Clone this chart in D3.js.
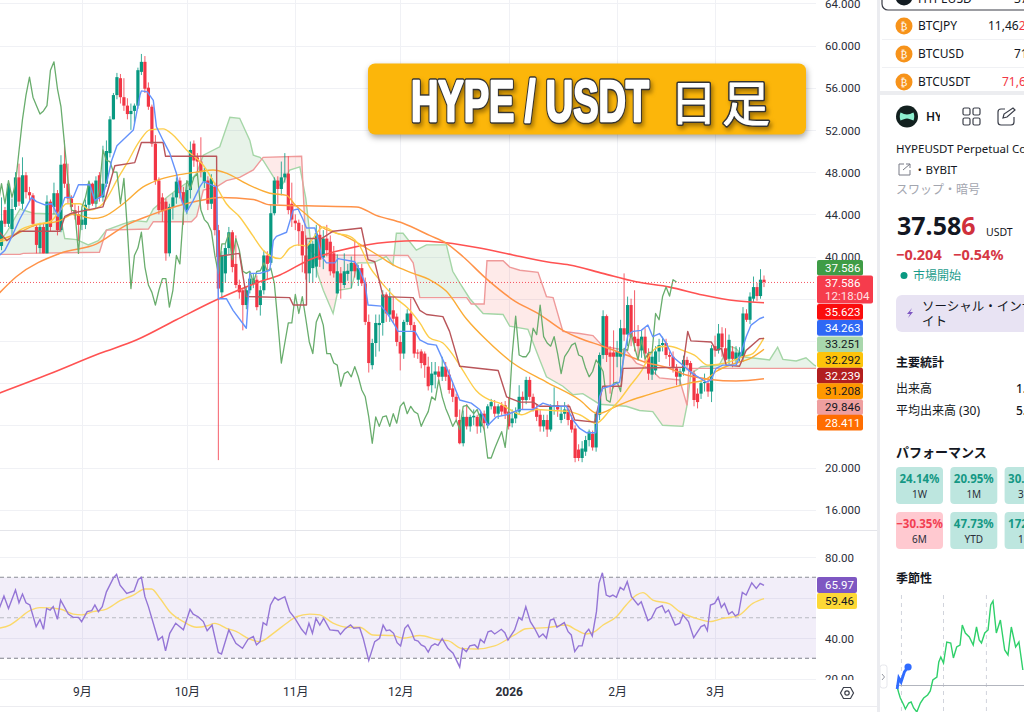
<!DOCTYPE html>
<html><head><meta charset="utf-8">
<script src="https://cdn.jsdelivr.net/npm/d3@7/dist/d3.min.js"></script>
<style>
html,body{margin:0;padding:0;background:#fff;overflow:hidden}
svg{display:block;font-family:Roboto,"Noto Sans","Noto Sans CJK JP",sans-serif}
</style></head><body><svg id="c" width="1024" height="712"></svg>
<script>
// ---- candles (daily, from startDay)
const startDay = Date.UTC(2025,7,9);
const opens=[41.0,44.4,43.1,42.6,44.7,47.5,45.0,47.7,46.1,45.8,
42.8,40.8,42.8,40.3,45.2,44.7,46.0,42.5,48.8,46.9,
45.5,44.4,44.0,43.0,43.0,44.9,46.9,45.0,47.7,45.6,
46.9,49.8,53.0,55.3,56.9,55.1,54.3,53.5,53.8,54.3,
57.5,58.45,56.0,54.2,50.7,47.2,45.6,45.2,40.3,44.7,
45.6,47.2,46.1,44.4,46.3,50.7,49.4,49.0,47.1,47.2,
45.0,46.6,42.5,36.6,38.4,40.8,42.3,39.3,37.3,36.8,
35.4,36.8,37.4,37.8,35.4,36.8,40.1,39.4,44.1,47.2,
46.4,47.5,47.86,45.0,43.4,43.2,42.4,40.1,38.4,38.9,
39.04,42.06,39.9,41.7,41.4,40.3,36.5,38.4,37.3,38.35,
38.6,39.4,37.8,38.9,37.46,33.8,29.7,31.8,33.5,33.7,
36.4,34.5,34.9,34.3,31.9,30.8,33.8,34.6,33.5,30.9,
31.0,30.8,29.56,27.8,28.8,29.1,28.6,29.56,28.8,27.5,
26.7,24.5,22.3,24.8,23.9,24.75,24.8,23.9,25.1,24.0,
25.8,25.8,25.1,25.9,25.9,25.3,24.2,24.65,25.3,26.7,
26.4,28.3,26.7,25.6,25.0,23.9,24.5,23.6,25.8,25.9,
24.5,25.1,25.5,24.5,23.7,21.7,20.9,21.5,22.6,23.2,
21.9,25.0,30.66,34.35,30.9,30.9,30.5,30.5,33.2,32.6,
35.4,32.4,32.2,31.1,32.4,30.8,28.8,29.2,31.0,31.6,
31.8,30.66,30.5,29.4,28.6,29.1,30.2,29.9,28.9,27.0,
27.0,28.0,28.0,27.2,31.5,31.1,32.7,31.3,30.3,31.0,
30.2,30.5,30.5,34.6,34.0,36.0,37.1,36.25,37.8];
const closes=[43.4,43.1,46.9,44.5,47.5,45.2,47.7,46.1,45.8,43.1,
41.1,42.8,40.3,45.2,42.8,46.0,42.5,48.7,46.9,45.5,
44.7,43.9,43.0,43.5,44.9,46.9,45.0,47.2,45.6,46.9,
50.0,53.0,55.3,57.0,55.1,54.3,53.5,53.8,54.3,57.66,
58.45,55.9,54.2,50.7,47.2,44.4,44.3,40.3,44.7,45.6,
47.1,46.0,45.0,46.3,50.1,49.1,49.0,48.0,48.0,45.0,
47.4,42.5,36.96,40.1,40.8,42.3,39.0,37.3,36.6,35.4,
36.8,37.9,37.9,35.2,36.8,40.1,39.3,44.1,47.2,46.4,
47.5,47.86,44.4,43.5,43.15,42.4,40.1,38.4,41.2,41.2,
42.2,39.7,41.7,40.6,38.6,38.4,38.6,37.5,38.6,38.65,
39.4,38.6,38.9,37.46,33.8,29.9,31.8,33.7,33.7,36.4,
34.6,36.2,34.1,31.9,30.8,33.8,34.6,33.5,30.8,30.8,
29.9,29.7,27.7,28.9,29.1,28.6,29.56,28.6,27.35,26.7,
24.8,22.3,24.8,23.9,24.8,24.9,23.9,25.1,24.2,25.8,
26.2,25.1,25.8,25.3,25.1,23.9,24.65,25.3,26.7,26.4,
28.3,26.7,25.6,24.8,23.9,24.5,23.6,25.8,25.9,25.5,
25.1,25.5,24.5,23.6,20.9,20.9,21.8,22.6,23.4,21.9,
25.1,30.66,34.35,30.66,30.5,30.5,31.0,33.2,32.6,35.4,
32.4,31.8,31.5,32.4,30.8,28.9,30.5,31.0,31.6,31.8,
30.66,30.5,29.4,28.6,29.1,30.2,29.7,29.1,26.4,26.2,
28.0,28.1,27.2,31.3,31.1,32.7,31.4,30.2,32.1,30.3,
30.9,30.9,34.6,34.0,36.2,37.1,36.25,37.8,37.586];
const highs=[45.6,44.7,47.2,45.5,48.0,48.8,49.4,48.0,46.6,46.0,
43.0,43.2,43.1,45.8,45.4,47.0,46.3,49.6,51.0,48.8,
45.8,45.0,44.8,44.5,45.4,47.2,47.0,47.6,48.0,50.5,
51.0,53.3,55.5,57.4,57.3,56.9,55.0,54.5,54.5,57.9,
59.2,59.0,56.5,54.4,51.5,47.5,46.0,45.5,45.0,46.0,
47.5,47.5,46.6,46.8,50.9,51.0,49.8,51.3,48.4,47.6,
47.8,47.0,43.0,40.5,41.2,42.8,42.5,42.0,37.8,37.0,
37.2,38.5,38.4,38.2,37.2,40.6,40.5,44.9,47.5,47.6,
49.0,49.8,49.5,47.0,44.0,43.5,43.0,42.0,41.5,41.5,
43.0,43.0,42.5,43.0,42.0,41.0,40.2,39.0,40.3,39.3,
40.0,41.6,39.2,39.3,38.0,34.5,32.2,34.5,34.5,36.8,
36.6,37.0,36.2,34.6,32.5,34.0,35.0,36.0,33.8,31.2,
31.2,31.0,30.5,30.0,30.0,29.6,30.5,30.0,29.3,28.0,
27.0,25.5,25.4,26.0,25.0,25.5,25.0,25.4,25.4,26.0,
26.5,26.4,26.0,26.2,26.3,26.6,25.5,25.7,27.8,27.2,
28.6,28.6,27.0,26.0,25.5,25.0,25.0,26.0,27.6,26.3,
25.8,26.2,26.0,25.0,24.0,22.2,22.5,23.0,23.6,23.5,
25.3,30.9,34.9,34.5,31.5,33.0,32.0,34.0,38.4,36.2,
36.0,36.8,33.5,33.0,33.2,31.3,31.0,31.5,32.2,32.4,
32.2,31.0,31.0,29.8,29.4,30.6,30.5,30.1,29.2,27.5,
28.2,28.9,28.5,31.6,32.5,33.6,33.3,33.2,32.6,31.5,
31.5,31.4,35.2,35.0,36.6,38.1,37.5,38.8,38.2];
const lows=[40.6,42.8,42.8,41.9,44.4,44.8,44.5,45.5,45.3,42.8,
40.3,40.3,40.3,40.3,42.4,44.0,42.0,42.3,46.5,45.0,
44.2,43.5,41.5,42.5,42.6,44.5,44.8,44.6,45.2,45.2,
46.6,49.4,53.0,54.9,54.5,53.8,53.0,52.0,52.5,54.0,
57.2,55.5,53.9,50.4,46.8,44.0,43.3,39.6,40.0,43.5,
45.0,45.5,43.0,44.0,45.5,48.5,48.0,47.5,46.5,44.4,
44.5,42.0,20.7,36.0,37.5,40.2,38.5,37.0,36.0,33.0,
35.0,36.5,37.0,34.9,34.4,36.4,37.8,39.2,43.9,45.0,
45.8,47.0,44.0,42.8,42.5,41.0,38.5,37.8,37.5,37.5,
38.0,39.0,38.8,40.0,38.2,38.0,36.5,36.0,37.0,37.7,
37.0,38.0,37.2,37.2,33.5,29.0,29.3,30.5,31.0,32.5,
33.8,33.8,33.7,31.5,29.2,30.3,33.5,33.0,30.4,30.3,
29.4,28.5,27.3,27.1,27.5,28.0,28.2,28.2,27.0,26.2,
24.5,22.2,22.0,23.6,23.4,24.0,23.2,23.3,23.5,23.7,
25.5,24.8,24.6,24.9,24.6,23.6,23.8,24.2,25.0,25.5,
26.0,26.4,25.3,24.4,23.4,23.4,22.9,23.4,25.0,24.8,
24.2,24.6,24.0,23.3,20.5,20.6,20.5,21.1,22.0,21.6,
21.5,24.5,30.3,30.0,27.0,27.5,29.5,28.5,32.0,31.5,
31.5,31.0,30.5,30.4,30.0,28.3,28.3,28.8,30.0,31.0,
30.3,29.6,29.0,27.8,27.8,28.7,29.2,28.8,25.8,25.6,
26.5,27.2,26.7,26.2,30.5,30.8,30.5,29.8,29.8,29.5,
29.8,30.0,30.0,33.8,33.6,35.7,35.8,36.0,37.1];

// ---- indicator readings: [day index, value]
const chikouShift=25;
const tenkan=[[-1,40],[1,40.6],[2.4,41.5],[5.3,43.6],[8.6,45.6],[10,45.2],[12.4,44.9],[14.4,45],[16.2,43.8],[18.1,45.6],[20.5,45.6],[22,46.8],[25.3,46.8],[26.7,45.3],[29,45.8],[30,46.9],[31.5,49.1],[33,50.5],[37.7,52],[39.6,55.3],[40,55.7],[41.7,55.6],[43.4,54.8],[44.3,52.3],[46.2,51],[48.1,49.8],[50,47.9],[51.5,45.3],[52.9,44.2],[54.8,45.3],[56.7,46.6],[57.7,47.1],[61.5,46.6],[62,36],[64.3,36],[66.2,34.9],[69.1,33.6],[70,33.2],[71,38.4],[73.9,38.4],[76.7,38.7],[77.7,41.5],[78.6,41.9],[81.5,42.3],[83.4,44.4],[84.8,44.5],[86.2,43.5],[87.2,42.7],[89.6,42.7],[90.5,41.6],[91.5,40],[92.9,39.4],[95.3,39.4],[96.2,39.8],[101,39.5],[102.4,38.7],[103.9,37.5],[104.8,35.4],[108.6,35.3],[110.5,34.5],[112.4,33.5],[113.4,32.9],[118.2,32.9],[119.6,32.1],[122,31.7],[124.3,31.6],[126.2,30.2],[128.1,28.8],[131,26.4],[134.3,26.1],[136.7,25.5],[139.1,24],[141.5,24.8],[144.4,25],[148.2,25.5],[152,25.5],[154.8,26.1],[157.7,25.8],[161.5,25.8],[163.4,24.5],[165.3,23.7],[167.2,23.3],[169.9,23.3],[171,26.7],[171.9,27.5],[173.9,27.7],[176.7,28.1],[179.1,32.6],[180.5,32.9],[182.9,33],[184.8,33.5],[186.2,32.4],[188.1,32.7],[190,31.8],[191.9,30.5],[194.8,29.7],[197.6,28.9],[201.5,28.1],[202.9,28.3],[204.3,29.4],[206.2,29.7],[210,29.7],[211.4,30.8],[212.9,32.4],[214.3,33.5],[216.7,34.1],[218,34.263]];
const kijun=[[-1,42.5],[1.5,41.5],[5.3,42.4],[16.7,42.4],[18.1,43.8],[20,44.1],[29,44.7],[30,45.8],[32.4,48.6],[38.1,48.9],[40,50.8],[46.2,50.8],[46.9,49.5],[61.5,49.5],[61.6,40],[68,40.3],[70,36.2],[82.4,36.1],[83.4,35.4],[87.2,35.4],[87.2,41.7],[91.5,41.7],[94.8,42.4],[102.9,42.7],[104.8,39.7],[106.7,39.5],[109.1,36.2],[117.7,36.1],[119.6,34.9],[121.5,34.5],[126.2,34.3],[128.1,32.9],[131,29.6],[142,29.2],[144.4,26.7],[148.2,26.2],[152,26.2],[153.9,25.8],[162.4,25.8],[163.9,24.5],[169.6,24.3],[171.9,27.7],[177.2,27.7],[177.7,29.4],[194.8,29.5],[196.2,32.9],[197.1,32],[202.9,31.9],[204.3,31.1],[205.8,31.3],[207.2,29.7],[211,29.6],[212.9,31.1],[216.7,32.2],[218,32.239]];
const spanA=[[-1,41.2],[1.5,42.3],[5.3,44.5],[9.1,44.1],[16.7,44],[18.1,41.7],[21.5,41.6],[24.8,41.1],[27.7,41.5],[30,42.5],[34.8,43.1],[37.7,43.4],[41.5,43.3],[43.4,44.5],[47.2,45.6],[50,46.3],[53.9,47.2],[55.8,47.9],[57.7,49.6],[62.4,50.4],[65.3,53.2],[68.1,53.1],[71,51],[72,49.6],[73.9,49.4],[74.8,49.1],[78.6,47.1],[80,46.6],[82.4,48.2],[85.3,48.5],[87,45.5],[88.5,41],[90.5,38.25],[92,36.8],[94.8,34.6],[96.2,36.8],[100,37],[101.9,39.4],[106.2,39.4],[110,40],[111.9,39.2],[112.9,42.2],[114.8,42.2],[118.6,40.6],[121.5,41.1],[127.2,41.1],[129,38.6],[131,37.5],[133.9,36],[137.7,34.6],[143.4,34.5],[145.3,33.4],[150.5,33.1],[153.9,30.2],[155.8,28.6],[160.5,27.7],[163.4,26.9],[166.2,27],[171,26],[178.6,25.8],[182.4,25.4],[186.2,25.3],[189,24],[194.8,23.9],[196,25.9],[197.1,28.9],[200,29.55],[205.2,29.7],[208,31.5],[210,31.3],[211.9,30.5],[219.6,30.2],[221.9,31.4],[223.4,30.25],[227.2,30.1],[230,30.4],[232.4,29.7],[233.5,29.5],[243,29.5]];
const spanB=[[-1,40.2],[5.3,40.2],[6.2,40.3],[28,40.4],[30,42.5],[42,42.6],[43.4,43.3],[54.3,43.3],[55.8,43.8],[57.7,46.3],[61.5,46.6],[64.3,47.2],[68.1,47.5],[72,48.2],[74.8,49.4],[85.8,49.5],[87,41],[89.6,40.15],[116.2,40.1],[117.7,39.4],[119.6,36.1],[133,36.1],[134.3,35.5],[138,35.5],[138.8,39.6],[143.4,39.6],[145.3,39],[148.2,38.7],[153.4,38.5],[155.8,36.2],[157.7,36.1],[160.5,32.9],[165.3,32.7],[169.1,32.5],[171.9,31.5],[178.6,31.1],[181.5,29.9],[185.3,29.4],[188.1,28.5],[193.9,28.3],[196,25.9],[196.5,29.4],[243,29.4]];
const sma20=[[-1,41.4],[2.4,41.7],[5.3,42.5],[9.1,43],[13.9,43.3],[16.2,44.1],[18.6,45],[22.4,45],[25.3,44.4],[29,45],[31,46],[32.9,47.2],[35.8,48.8],[39.6,51],[42.4,52],[46.2,52.1],[49.1,51.5],[52.9,50.1],[57.7,48.65],[61.5,46.6],[64.3,45],[68.1,43.75],[72,41.9],[74.8,40.6],[77.2,40],[79.6,39.8],[82.4,40.8],[84.8,41.1],[87.2,41],[89,41.7],[92,42.8],[95.8,42.2],[99.6,41.9],[102.4,41],[105.3,39],[108,37.8],[110,37],[112.9,36],[116.2,35.1],[119.6,33.7],[122.4,32.3],[126.2,31.8],[129,30.7],[131.9,29.2],[135.7,27.3],[139.5,26.4],[142.4,26.1],[145.3,25.5],[148.7,25],[152.9,25.5],[157.7,25.4],[162.4,25.3],[165.3,25],[170,24.2],[173.9,25.4],[176.7,26.4],[179.6,27.7],[183.4,29.4],[185.3,30.66],[188.1,31.45],[191,31.5],[194.8,31.1],[198.1,30.66],[202,29.7],[207.2,29.9],[211.9,30.5],[214.8,30.8],[218,32.292]];
const sma50=[[-1,41.5],[5.3,42.3],[9.1,42.9],[16.7,43.4],[20.5,44],[26.2,43.6],[29,43.75],[34.8,45],[40.5,46.6],[44.3,47.2],[50,47.7],[55.8,48],[60.5,48.2],[64.3,47.9],[70,46.9],[76.7,46],[81.5,45.8],[83.9,44.9],[86.7,44.1],[92,42.7],[97.7,42],[108.2,40],[112,39.2],[117.7,38.4],[122.4,37.8],[127.2,36.7],[132.9,34.1],[138.6,32.1],[146.2,29.9],[155.8,28.1],[165.3,26.4],[170.5,25.1],[175.8,25.8],[178.6,26.2],[185,26.9],[190.9,27.5],[196.7,28],[201.4,28.35],[204.3,29.1],[210,29.9],[213.8,30.3],[218,31.208]];
const sma100=[[-1,36.4],[4.3,38.1],[16.7,40.3],[27.2,41.2],[35.8,43],[42.4,43.9],[56.7,45.3],[62.4,45.6],[72,45.4],[76.7,44.9],[87.2,44.8],[101.5,44.7],[107.1,43.9],[114.8,43.15],[122.4,42],[127.2,41.25],[131.9,40],[138.6,37.9],[146.2,35.9],[153.9,34.5],[160.5,33],[165.3,32.25],[171.9,31.5],[178.6,30.66],[184.8,29.9],[190,29.5],[195.8,28.76],[202.6,28.35],[210,28.2],[218,28.411]];
const sma200=[[-1,27],[14,28.9],[28,30.8],[38.7,32.1],[50,34],[61.5,35.9],[73,37.5],[79.6,38.25],[88.1,39.7],[95.8,40.5],[107.4,41.25],[117.7,41.5],[127.2,41.3],[136.7,40.8],[146.2,40.15],[155.8,39.5],[162.4,39.2],[171.9,38.4],[181.4,37.6],[191,37.1],[200.5,36.35],[210,35.8],[218,35.623]];
const rsi=[[-1,53],[0.7,60.7],[2,54.6],[4,63.7],[5,57.4],[6,61.7],[7,57.4],[8.1,56.3],[9.9,45.6],[11,49.2],[12,44.3],[12.9,54.6],[13.9,53.8],[14.8,55.5],[16,49.2],[16.9,58.7],[19.1,51.8],[20.5,50.2],[22,50.2],[22.9,48.1],[24.5,53],[25.8,53.5],[26.7,56.3],[27.7,53],[28.8,55.5],[30,62.8],[32,69.7],[32.9,71.4],[33.9,66.1],[35.8,62],[37.9,63.2],[39.1,68.9],[40,69.9],[41,60.4],[42,55.5],[44.8,39],[46,40.7],[46.9,33.6],[48.1,42.3],[49.8,47.3],[52,44],[53.9,54.1],[54.8,51.8],[56.2,50.5],[57.7,48.1],[58.8,43.6],[60.2,46.4],[62,32.8],[62.9,32.1],[65,44],[67,37.4],[68.9,34.9],[70.5,39.4],[72,40.7],[72.9,36.6],[73.9,38.2],[74.8,47.6],[75.8,46.4],[76.9,56.3],[78.1,60.1],[79.1,58.7],[81,60.4],[82.4,53],[83.9,49.7],[85.8,44.3],[87,41.8],[87.9,47.3],[88.9,42.3],[89.9,49.7],[91,46.4],[92.1,49.7],[93.9,44],[96.2,43.6],[96.9,41.8],[98.1,44.3],[99.8,46.4],[100.7,44.8],[102.4,45.1],[103.4,39.9],[105,28.9],[106.7,38.2],[108.1,39.9],[109.1,46.4],[110,43.6],[111,44],[112.1,42.3],[113.1,37.7],[114.1,36.1],[115.3,44.8],[116.2,46.4],[117.2,43.1],[118.1,39],[119.1,38.5],[120,36.6],[121,35.8],[122,33],[122.9,36.1],[123.9,37.1],[124.8,36.4],[126,39.7],[127.6,34.9],[129.1,32.5],[131,25.6],[131.8,34.9],[132.9,33.3],[133.9,36.1],[135.3,36.6],[136.2,34.9],[136.9,39.4],[138,37.7],[139.1,43.1],[140,43.6],[141,42],[142.9,44.3],[143.9,42.6],[144.8,39],[146.7,44],[147.9,50.2],[148.8,48.9],[149.9,55.5],[151.2,48.1],[152.4,44.8],[153.7,40.4],[154.8,42],[155.8,39.9],[156.9,48.9],[157.9,49.4],[158.8,45.3],[160.9,47.6],[162,43.1],[162.9,41.5],[163.9,33.3],[165,36.1],[166,36.1],[166.9,42.3],[167.9,44.3],[168.9,41],[170.1,53],[170.8,67],[171.8,72.2],[172.9,61.2],[173.9,60.4],[174.8,61.2],[175.8,60.1],[176.9,65],[177.9,63.7],[178.9,67.8],[180.1,60.4],[182,56.3],[182.9,57.9],[184.8,48.6],[185.8,49.7],[187.2,54.6],[188.9,56],[189.8,52.5],[190.7,53.8],[192.6,46.4],[193.9,47.3],[194.8,51.4],[196.4,48.1],[197.9,40.2],[200,45.6],[201,46.4],[201.8,43.6],[202.7,56.3],[203.9,57.1],[204.9,60.1],[205.8,55.1],[206.7,57.1],[207.9,51.8],[208.9,53],[209.8,50.9],[210.7,51.8],[211.8,62.5],[212.9,61.2],[214.5,67.3],[215.8,64.5],[216.9,67],[218,65.97]];
const rsiMA=[[-1,44.8],[2.4,46.4],[4.3,48.6],[8.1,53.5],[11,55],[16.7,54.3],[20.5,51.8],[22.9,51.4],[26.2,53],[30,54.3],[33.9,58.4],[37.7,61.2],[41,64.2],[42.9,64.2],[45.3,59.6],[48.1,53],[52,48.1],[55.8,45.3],[58.6,45.9],[61,47.2],[64.3,44.8],[67.2,43.1],[71,39.4],[73.9,38.2],[77.7,42.3],[81.5,47.3],[84.3,50.5],[88.1,51.8],[91,51.4],[94.8,47.3],[98.6,45.3],[102.4,45.3],[106.2,41.5],[111.9,41.2],[114.8,39.9],[119.6,41.2],[125.3,39],[127.6,38.7],[131.5,34.9],[135.8,34.6],[141,36.1],[146.7,41.5],[150,44.6],[155.8,45.1],[161.5,46.4],[164.3,44],[167.2,42],[169.6,43.1],[172,46.4],[175.8,50.5],[178.6,56.3],[181.5,61.2],[183.4,62.4],[186.2,58.7],[191,56.8],[193.9,53],[198.6,49.7],[202.4,48.1],[206.3,49.7],[210.5,50.9],[214.8,57.1],[218,59.46]];

// ---- axes
const priceTicks=[64,60,56,52,48,44,40,36,32,28,24,20,16];
const priceTickLabelsHidden=[36,32,28,24];
const rsiTicks=[80,60,40,20];
const monthTicks=[[2025,8,"9月"],[2025,9,"10月"],[2025,10,"11月"],[2025,11,"12月"],[2026,0,"2026"],[2026,1,"2月"],[2026,2,"3月"]];
const lastLabels=[["37.586","#3f9c46","#fff"],["35.623","#fb0d0d","#fff"],["34.263","#2f68f5","#fff"],["33.251","#a9d7ac","#131722"],["32.292","#fdc30a","#131722"],["32.239","#b21f1f","#fff"],["31.208","#ff9800","#131722"],["29.846","#ef9f9f","#131722"],["28.411","#ff6d00","#fff"]];
const rsiLabels=[["65.97","#7e57c2","#fff"],["59.46","#fdd835","#131722"]];
const lastPrice=37.586;
// ---- sidebar data
const watch=[["BTCJPY","11,46","2","#131722"],["BTCUSD","71","","#131722"],["BTCUSDT","71,6","","#f23645"]];
const perf=[["24.14%","1W",1],["20.95%","1M",1],["30.","3",1],["−30.35%","6M",0],["47.73%","YTD",1],["172","1",1]];
const seasonGreen=[[0.5,-2],[1.8,-8],[3,-13],[5.7,-20],[7,-24],[9.6,-18],[11.5,-17],[13.5,-23],[16,-27],[18.8,-18],[21.4,-13],[24.5,-10],[26.6,-6],[28.6,5],[31.8,8],[33.3,23],[34.9,28],[37,22],[39.6,43],[42.7,42],[44.8,27],[47.4,38],[50,40],[51.8,60],[54.2,52],[57.3,48],[60.4,40],[63,58],[65.1,45],[66.9,42],[69.5,52],[72.1,55],[74.2,80],[76,84],[78.6,52],[81.8,65],[85.2,35],[87.8,30],[90.4,58],[93.8,38],[96.4,43],[99.5,15]];
const seasonBlue=[[0.5,-4],[1.8,7],[3.6,3],[6.2,13],[9.1,18]];
const seasonDash=[3.9,37,70.8];

const svg=d3.select("#c");
const day=i=>new Date(startDay+i*864e5);
const x=d3.scaleUtc().domain([day(0),day(218)]).range([1.5,764]);
const y=d3.scaleLinear().domain([20,40]).range([467.5,256.5]);
const yr=d3.scaleLinear().domain([40,80]).range([638,557]);
const plotR=816, paneSplit=530, paneBottom=680;
const defs=svg.append("defs");
defs.append("clipPath").attr("id","pP").append("rect").attr("width",plotR).attr("height",paneSplit);
defs.append("clipPath").attr("id","pR").append("rect").attr("y",paneSplit).attr("width",plotR).attr("height",paneBottom-paneSplit);

// grid
const grid=svg.append("g").attr("stroke","#f0f1f5").attr("stroke-width",1);
const tickDates=monthTicks.map(m=>new Date(Date.UTC(m[0],m[1],1)));
tickDates.forEach(d=>{const X=Math.round(x(d))+.5;grid.append("line").attr("x1",X).attr("x2",X).attr("y1",0).attr("y2",paneBottom)});
priceTicks.forEach(v=>grid.append("line").attr("x1",0).attr("x2",plotR).attr("y1",Math.round(y(v))+.5).attr("y2",Math.round(y(v))+.5));
rsiTicks.forEach(v=>grid.append("line").attr("x1",0).attr("x2",plotR).attr("y1",Math.round(yr(v))+.5).attr("y2",Math.round(yr(v))+.5));

// RSI pane separators
svg.append("line").attr("x1",0).attr("x2",880).attr("y1",530.5).attr("y2",530.5).attr("stroke","#e4e5ea");
svg.append("line").attr("x1",0).attr("x2",880).attr("y1",706.5).attr("y2",706.5).attr("stroke","#ececf0");

// main pane
const main=svg.append("g").attr("clip-path","url(#pP)");
const linePath=(curve)=>d3.line().x(d=>x(day(d[0]))).y(d=>y(d[1])).curve(curve||d3.curveLinear);
// cloud: difference with clips
const areaDown=(s)=>d3.area().x(d=>x(day(d[0]))).y0(paneSplit).y1(d=>y(d[1]))(s);
const areaUp=(s)=>d3.area().x(d=>x(day(d[0]))).y0(0).y1(d=>y(d[1]))(s);
defs.append("clipPath").attr("id","aboveB").append("path").attr("d",areaUp(spanB));
defs.append("clipPath").attr("id","aboveA").append("path").attr("d",areaUp(spanA));
main.append("g").attr("clip-path","url(#aboveB)").append("path").attr("d",areaDown(spanA)).attr("fill","#43a047").attr("fill-opacity",.12);
main.append("g").attr("clip-path","url(#aboveA)").append("path").attr("d",areaDown(spanB)).attr("fill","#f44336").attr("fill-opacity",.11);
main.append("path").attr("d",linePath()(spanA)).attr("fill","none").attr("stroke","#a5d6a7").attr("stroke-width",1.4);
main.append("path").attr("d",linePath()(spanB)).attr("fill","none").attr("stroke","#ef9a9a").attr("stroke-width",1.4);

// candles
const upC="#089981",dnC="#f23645";
const candles=main.append("g");
closes.forEach((c,i)=>{
  const o=opens[i],col=c>=o?upC:dnC,X=x(day(i));
  candles.append("line").attr("x1",X).attr("x2",X).attr("y1",y(highs[i])).attr("y2",y(lows[i])).attr("stroke",col).attr("stroke-width",1).attr("stroke-opacity",.8);
  candles.append("rect").attr("x",X-1.6).attr("width",3.2).attr("y",y(Math.max(o,c))).attr("height",Math.max(1,Math.abs(y(o)-y(c)))).attr("fill",col);
});

// lines
const chikou=closes.map((c,i)=>[i-chikouShift,c]);
const lineDefs=[[sma200,"#ff5252",1.6,d3.curveMonotoneX],[sma100,"#ff9248",1.5,d3.curveMonotoneX],[sma50,"#fbac36",1.4,d3.curveMonotoneX],[sma20,"#fdcd4a",1.4,d3.curveMonotoneX],[chikou,"#69ad6d",1.3],[kijun,"#b9555a",1.4],[tenkan,"#6492fb",1.4]];
lineDefs.forEach(l=>main.append("path").attr("d",linePath(l[3])(l[0])).attr("fill","none").attr("stroke",l[1]).attr("stroke-width",l[2]).attr("stroke-linejoin","round"));

// last price dotted
main.append("line").attr("x1",0).attr("x2",plotR).attr("y1",y(lastPrice)+.5).attr("y2",y(lastPrice)+.5).attr("stroke","#f23645").attr("stroke-dasharray","1 2").attr("stroke-opacity",.85);

// RSI pane
const rp=svg.append("g").attr("clip-path","url(#pR)");
rp.append("rect").attr("x",0).attr("width",plotR).attr("y",yr(70)).attr("height",yr(30)-yr(70)).attr("fill","#7e57c2").attr("fill-opacity",.1);
[[70,"#8a8d96"],[50,"#b9bac2"],[30,"#7e808a"]].forEach(b=>rp.append("line").attr("x1",0).attr("x2",plotR).attr("y1",yr(b[0])).attr("y2",yr(b[0])).attr("stroke",b[1]).attr("stroke-dasharray","4 3"));
const rl=(c)=>d3.line().x(d=>x(day(d[0]))).y(d=>yr(d[1])).curve(c||d3.curveLinear);
rp.append("path").attr("d",rl(d3.curveMonotoneX)(rsiMA)).attr("fill","none").attr("stroke","#fbd96b").attr("stroke-width",1.4);
rp.append("path").attr("d",rl()(rsi)).attr("fill","none").attr("stroke","#9475d6").attr("stroke-width",1.4);

// axes
const axP=d3.axisRight(y).tickValues(priceTicks.filter(t=>!priceTickLabelsHidden.includes(t))).tickSize(0).tickPadding(0).tickFormat(d3.format(".3f"));
const gP=svg.append("g").attr("transform","translate(825,0.6)").call(axP);
const axR=d3.axisRight(yr).tickValues([80,40]).tickSize(0).tickPadding(0).tickFormat(d3.format(".2f"));
const gR=svg.append("g").attr("transform","translate(825,0.6)").call(axR);
const axT=d3.axisBottom(x).tickValues(tickDates).tickSize(0).tickPadding(0).tickFormat((d,i)=>monthTicks[i][2]);
const gT=svg.append("g").attr("transform","translate(0,686)").call(axT);
[gP,gR,gT].forEach(g=>{g.select(".domain").remove();g.selectAll("text").attr("fill","#2a2e39").attr("font-size","11.5px").attr("font-family",'Roboto,"Noto Sans CJK JP",sans-serif')});
gT.selectAll("text").attr("dy",0).attr("y",10).attr("font-size","12px").attr("font-weight",(d,i)=>monthTicks[i][2]==="2026"?700:400);
// clipped 20.00 label
svg.append("clipPath").attr("id","c20").append("rect").attr("x",816).attr("y",660).attr("width",64).attr("height",20);
svg.append("text").attr("clip-path","url(#c20)").attr("x",825).attr("y",yr(20)+4).attr("font-size","11.5px").attr("fill","#2a2e39").text("20.00");

// badges
function badge(txt,yT,h,w,bg,fg,sub){
  svg.append("rect").attr("x",817).attr("y",yT).attr("width",w).attr("height",h).attr("rx",2).attr("fill",bg);
  svg.append("text").attr("x",825).attr("y",yT+(sub?11.5:h/2+4)).attr("font-size","11.5px").attr("fill",fg).text(txt);
  if(sub)svg.append("text").attr("x",825).attr("y",yT+24).attr("font-size","11.5px").attr("fill","#ffe0e3").text(sub);
}
const bl=lastLabels;
badge(bl[0][0],260,15.5,46,bl[0][1],bl[0][2]);
badge("37.586",275.5,28,56,"#f63c4c","#fff","12:18:04");
[304,320,336.5,352,367.7,383.3,399.3,414.7].forEach((t,i)=>badge(bl[i+1][0],t,15.7,46,bl[i+1][1],bl[i+1][2]));
[577,593].forEach((t,i)=>badge(rsiLabels[i][0],t,16,40,rsiLabels[i][1],rsiLabels[i][2]));
// settings hexagon
svg.append("path").attr("d","M843.500 687.500h7l3 5.500-3 5.500h-7l-3-5.500z").attr("fill","none").attr("stroke","#3b3f4a").attr("stroke-width",1.2);
svg.append("circle").attr("cx",847).attr("cy",693).attr("r",2.2).attr("fill","none").attr("stroke","#3b3f4a").attr("stroke-width",1.2);

// banner
const ban=svg.append("g");
ban.append("rect").attr("x",368).attr("y",63.5).attr("width",438).attr("height",71).attr("rx",7).attr("fill","#fcb60a").style("filter","drop-shadow(1px 3px 3px rgba(0,0,0,.35))");
const bt=ban.append("g").style("filter","drop-shadow(2px 3px 2px rgba(90,60,0,.55))");
function bannerText(t,X,Y,fam,fs,w,weight,thick){
  const a={x:X,y:Y,"font-family":fam,"font-size":fs,"font-weight":weight};
  if(w){a.textLength=w;a.lengthAdjust="spacingAndGlyphs"}
  const d=bt.append("text").text(t).attr("fill","#333").attr("stroke","#333").attr("stroke-width",thick+3).attr("stroke-linejoin","round");
  const f=bt.append("text").text(t).attr("fill","#fff").attr("stroke","#fff").attr("stroke-width",thick).attr("stroke-linejoin","round");
  Object.keys(a).forEach(k=>{d.attr(k,a[k]);f.attr(k,a[k])});
}
bannerText("HYPE / USDT",411,121,'"Liberation Sans Narrow","Liberation Sans",sans-serif',"57px",238,700,2.6);
bannerText("日",670,120,'"Noto Sans CJK JP",sans-serif',"47px",null,400,.9);
bannerText("足",722,121,'"Noto Sans CJK JP",sans-serif',"48px",null,400,.9);

// ---- sidebar
const sb=svg.append("g").attr("font-family",'"Noto Sans","Noto Sans CJK JP",sans-serif').attr("fill","#131722");
svg.append("line").attr("x1",878.5).attr("x2",878.5).attr("y1",0).attr("y2",712).attr("stroke","#ebecf0").attr("stroke-width",3);
const T=(t,X,Y,s,o)=>{const e=sb.append("text").attr("x",X).attr("y",Y).attr("font-size",s).text(t);Object.entries(o||{}).forEach(([k,v])=>e.attr(k,v));return e};
sb.append("rect").attr("x",882).attr("y",-20).attr("width",200).attr("height",30).attr("rx",6).attr("fill","#fff").attr("stroke","#3a3d47").attr("stroke-width",1.2);
sb.append("circle").attr("cx",904).attr("cy",-3).attr("r",8.5).attr("fill","#131c22");
T("HYPEUSD",918,3,"12px");
T("37",1014,3,"12px");
watch.forEach((r,i)=>{
  const Y=26+i*28;
  sb.append("circle").attr("cx",904).attr("cy",Y).attr("r",8.5).attr("fill","#f7931a");
  T("₿",900.5,Y+4,"10px",{fill:"#fff","font-family":"DejaVu Sans"});
  T(r[0],918,Y+4,"12px");
  const v=T(r[1],r[0]==="BTCUSD"?1014:(r[0]==="BTCJPY"?988:1002),Y+4,"12px",{fill:r[3]});
  if(r[2])v.append("tspan").attr("fill","#f23645").text(r[2]);
  if(i<2)sb.append("line").attr("x1",882).attr("x2",1024).attr("y1",Y+13.5).attr("y2",Y+13.5).attr("stroke","#f0f1f4");
});
sb.append("rect").attr("x",880).attr("y",91).attr("width",144).attr("height",4).attr("fill","#ecedf0");
// symbol head
sb.append("circle").attr("cx",907).attr("cy",116.5).attr("r",11).attr("fill","#12201f");
sb.append("path").attr("d","M900.5 112.5c3 1 4 2 6.5 2s3.5-1 6.5-2c1 2.5 1 5.500 0 8-3-1-4-2-6.5-2s-3.500 1-6.5 2c-1-2.500-1-5.500 0-8z").attr("fill","#8ef0d0");
defs.append("clipPath").attr("id","hyc").append("rect").attr("x",925).attr("y",105).attr("width",15).attr("height",22);
T("HYPEUSDT",926,121,"12px",{"font-weight":600,"clip-path":"url(#hyc)"});
[[963,108],[973,108],[963,118],[973,118]].forEach(p=>sb.append("rect").attr("x",p[0]).attr("y",p[1]).attr("width",7).attr("height",7).attr("rx",1.5).attr("fill","none").attr("stroke","#3b3f4a").attr("stroke-width",1.2));
sb.append("path").attr("d","M1005 109h-4a3 3 0 0 0-3 3v10a3 3 0 0 0 3 3h10a3 3 0 0 0 3-3v-5M1003 118l1-4 9-6 2 2-8 7z").attr("fill","none").attr("stroke","#3b3f4a").attr("stroke-width",1.2);
T("HYPEUSDT Perpetual Contract",896,153,"11.5px");
sb.append("path").attr("d","M904 164h-5v11h11v-5M903 170l7-6M906 164h4v4").attr("fill","none").attr("stroke","#787b86").attr("stroke-width",1);
T("・BYBIT",914,174,"11.5px");
T("スワップ・暗号",896,194,"12px",{fill:"#a3a6af"});
const pr=T("37.58",897,235,"25px",{"font-weight":700});
pr.append("tspan").attr("fill","#d0303c").text("6");
T("USDT",986,236,"10.5px");
T("−0.204",896,260,"14.5px",{fill:"#d63744","font-weight":700});
T("−0.54%",953,260,"14.5px",{fill:"#d63744","font-weight":700});
sb.append("circle").attr("cx",904).attr("cy",275.500).attr("r",3.5).attr("fill","#089981");
T("市場開始",913,280,"12px",{fill:"#1c9c8c"});
sb.append("rect").attr("x",896).attr("y",295).attr("width",180).attr("height",37).attr("rx",6).attr("fill","#e8e3f3");
sb.append("path").attr("d","M912 308l-5 6h3l-2 4 5-6h-3z").attr("fill","#7e57c2");
T("ソーシャル・インサ",922,311,"12.5px");
T("イト",922,326,"12.5px");
T("主要統計",896,367,"12px",{"font-weight":700});
T("出来高",896,393,"12px");
T("1.",1016,393,"12px",{"font-weight":500});
T("平均出来高 (30)",896,415,"12px");
T("5.",1016,415,"12px",{"font-weight":500});
T("パフォーマンス",896,457,"13px",{"font-weight":700});
perf.forEach((p,i)=>{
  const cx=i%3,ry=Math.floor(i/3),X=896+cx*54.3,Y=467+ry*45;
  sb.append("rect").attr("x",X).attr("y",Y).attr("width",47).attr("height",37).attr("rx",4).attr("fill",p[2]?"#bde6df":"#ffc9d0");
  T(p[0],X+23.5,Y+16,"11.5px",{"text-anchor":cx==2?"start":"middle",dx:cx==2?-20:0,"font-weight":700,fill:p[2]?"#149884":"#f23f52"});
  T(p[1],X+23.5,Y+31,"10px",{"text-anchor":cx==2?"start":"middle",dx:cx==2?-10:0,fill:"#2a2e39"});
});
T("季節性",896,583,"12px",{"font-weight":700});
const sx=d3.scaleLinear().domain([0,100]).range([896.5,1023.5]);
const sy=d3.scaleLinear().domain([0,84]).range([685,601]);
seasonDash.forEach(t=>sb.append("line").attr("x1",sx(t)).attr("x2",sx(t)).attr("y1",595).attr("y2",712).attr("stroke","#d1d4dc").attr("stroke-dasharray","4 4"));
sb.append("line").attr("x1",896).attr("x2",1024).attr("y1",685.5).attr("y2",685.5).attr("stroke","#b2b5be");
const sl=d3.line().x(d=>sx(d[0])).y(d=>sy(d[1]));
sb.append("path").attr("d",sl(seasonGreen)).attr("fill","none").attr("stroke","#2fd06a").attr("stroke-width",1.4);
sb.append("path").attr("d",sl(seasonBlue)).attr("fill","none").attr("stroke","#2f6bff").attr("stroke-width",2.8);
const lastS=seasonBlue[seasonBlue.length-1];
sb.append("circle").attr("cx",sx(lastS[0])).attr("cy",sy(lastS[1])).attr("r",3.6).attr("fill","#2f6bff");
sb.append("rect").attr("x",880).attr("y",665).attr("width",7).attr("height",23).attr("rx",2.5).attr("fill","#fff").attr("stroke","#e6e7ec");
sb.append("path").attr("d","M882 674l2.500 3-2.500 3").attr("fill","none").attr("stroke","#9598a1");
</script></body></html>
